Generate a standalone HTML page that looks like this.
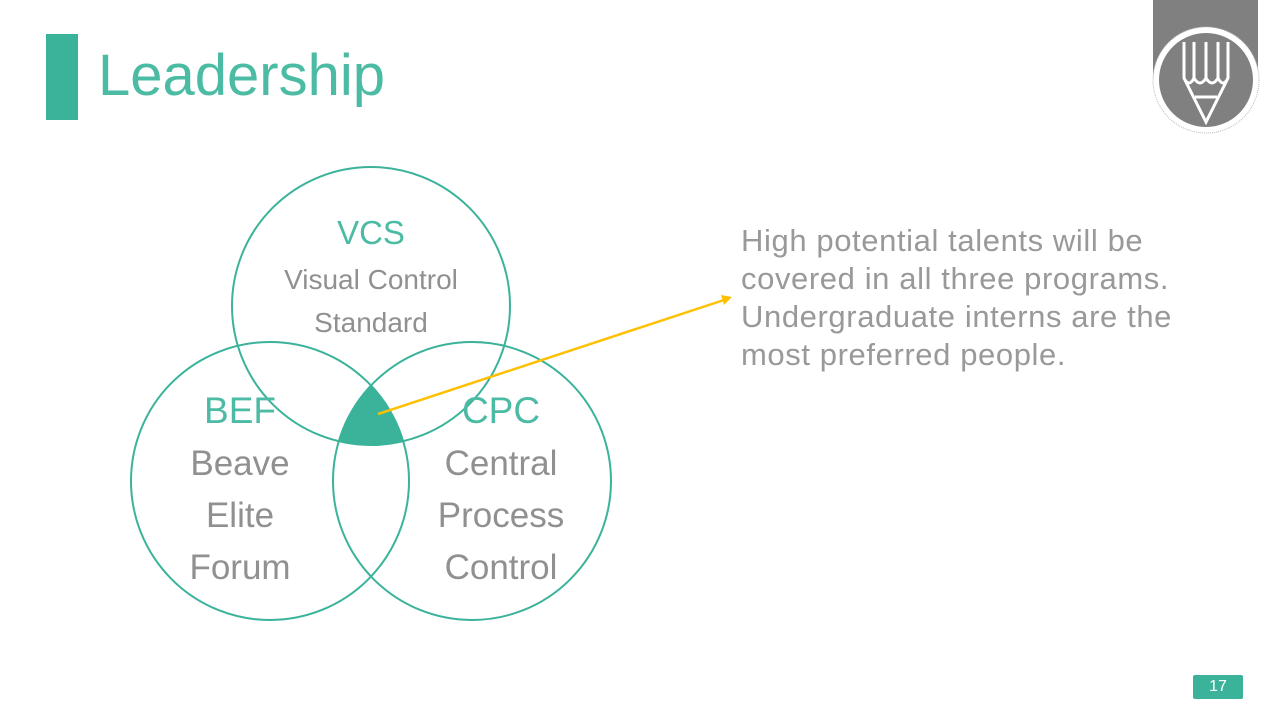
<!DOCTYPE html>
<html><head><style>
body{margin:0;width:1280px;height:720px;background:#fff;overflow:hidden;position:relative;font-family:"Segoe UI Light","Liberation Sans",sans-serif;}
.t{position:absolute;font-weight:300;}
</style></head><body>
<div style="position:absolute;left:46px;top:34px;width:32px;height:86px;background:#3bb39a"></div>
<div class="t" style="left:98px;top:36px;font-size:58px;color:#4cbba4;line-height:80px;">Leadership</div>
<svg width="1280" height="720" style="position:absolute;left:0;top:0">
<defs>
<clipPath id="a"><circle cx="371" cy="306" r="139"/></clipPath>
<clipPath id="b" clip-path="url(#a)"><circle cx="270" cy="481" r="139"/></clipPath>
</defs>
<rect x="1153" y="0" width="105" height="80" fill="#808080"/>
<circle cx="1206" cy="80" r="53" fill="#fff" stroke="#bbb" stroke-dasharray="1 1"/>
<circle cx="1206" cy="80" r="47" fill="#808080"/>
<path d="M1184 42 V78 L1206 122 L1228 78 V42 M1184 78 Q1189 88 1194 78 V42 M1194 78 Q1200 88 1206 78 V42 M1206 78 Q1212 88 1218 78 V42 M1218 78 Q1223 88 1228 78 M1195 97 H1217" fill="none" stroke="#fff" stroke-width="3"/>
<circle cx="472" cy="481" r="139" fill="#3bb39a" clip-path="url(#b)"/>
<g fill="none" stroke="#3bb39a" stroke-width="2">
<circle cx="371" cy="306" r="139"/>
<circle cx="270" cy="481" r="139"/>
<circle cx="472" cy="481" r="139"/>
</g>
<line x1="378" y1="414" x2="724" y2="300" stroke="#ffc000" stroke-width="2.5"/>
<polygon points="732,297 721,295 724,305" fill="#ffc000"/>
</svg>
<div class="t" style="left:271px;top:210px;width:200px;text-align:center;font-size:33px;color:#4cbba4;line-height:46px">VCS</div>
<div class="t" style="left:261px;top:258px;width:220px;text-align:center;font-size:28px;color:#909090;line-height:43px">Visual Control<br>Standard</div>
<div class="t" style="left:170px;top:386px;width:140px;text-align:center;font-size:37px;color:#4cbba4;line-height:50px">BEF</div>
<div class="t" style="left:170px;top:438px;width:140px;text-align:center;font-size:35px;color:#909090;line-height:52px">Beave<br>Elite<br>Forum</div>
<div class="t" style="left:431px;top:386px;width:140px;text-align:center;font-size:37px;color:#4cbba4;line-height:50px">CPC</div>
<div class="t" style="left:421px;top:438px;width:160px;text-align:center;font-size:35px;color:#909090;line-height:52px">Central<br>Process<br>Control</div>
<div class="t" style="left:741px;top:222px;font-size:31px;color:#999;line-height:38px;white-space:nowrap;letter-spacing:0.6px">High potential talents will be<br>covered in all three programs.<br>Undergraduate interns are the<br>most preferred people.</div>
<div style="position:absolute;left:1193px;top:675px;width:50px;height:24px;background:#3bb39a;color:#fff;font-size:16px;text-align:center;line-height:24px;border-radius:2px">17</div>
</body></html>
